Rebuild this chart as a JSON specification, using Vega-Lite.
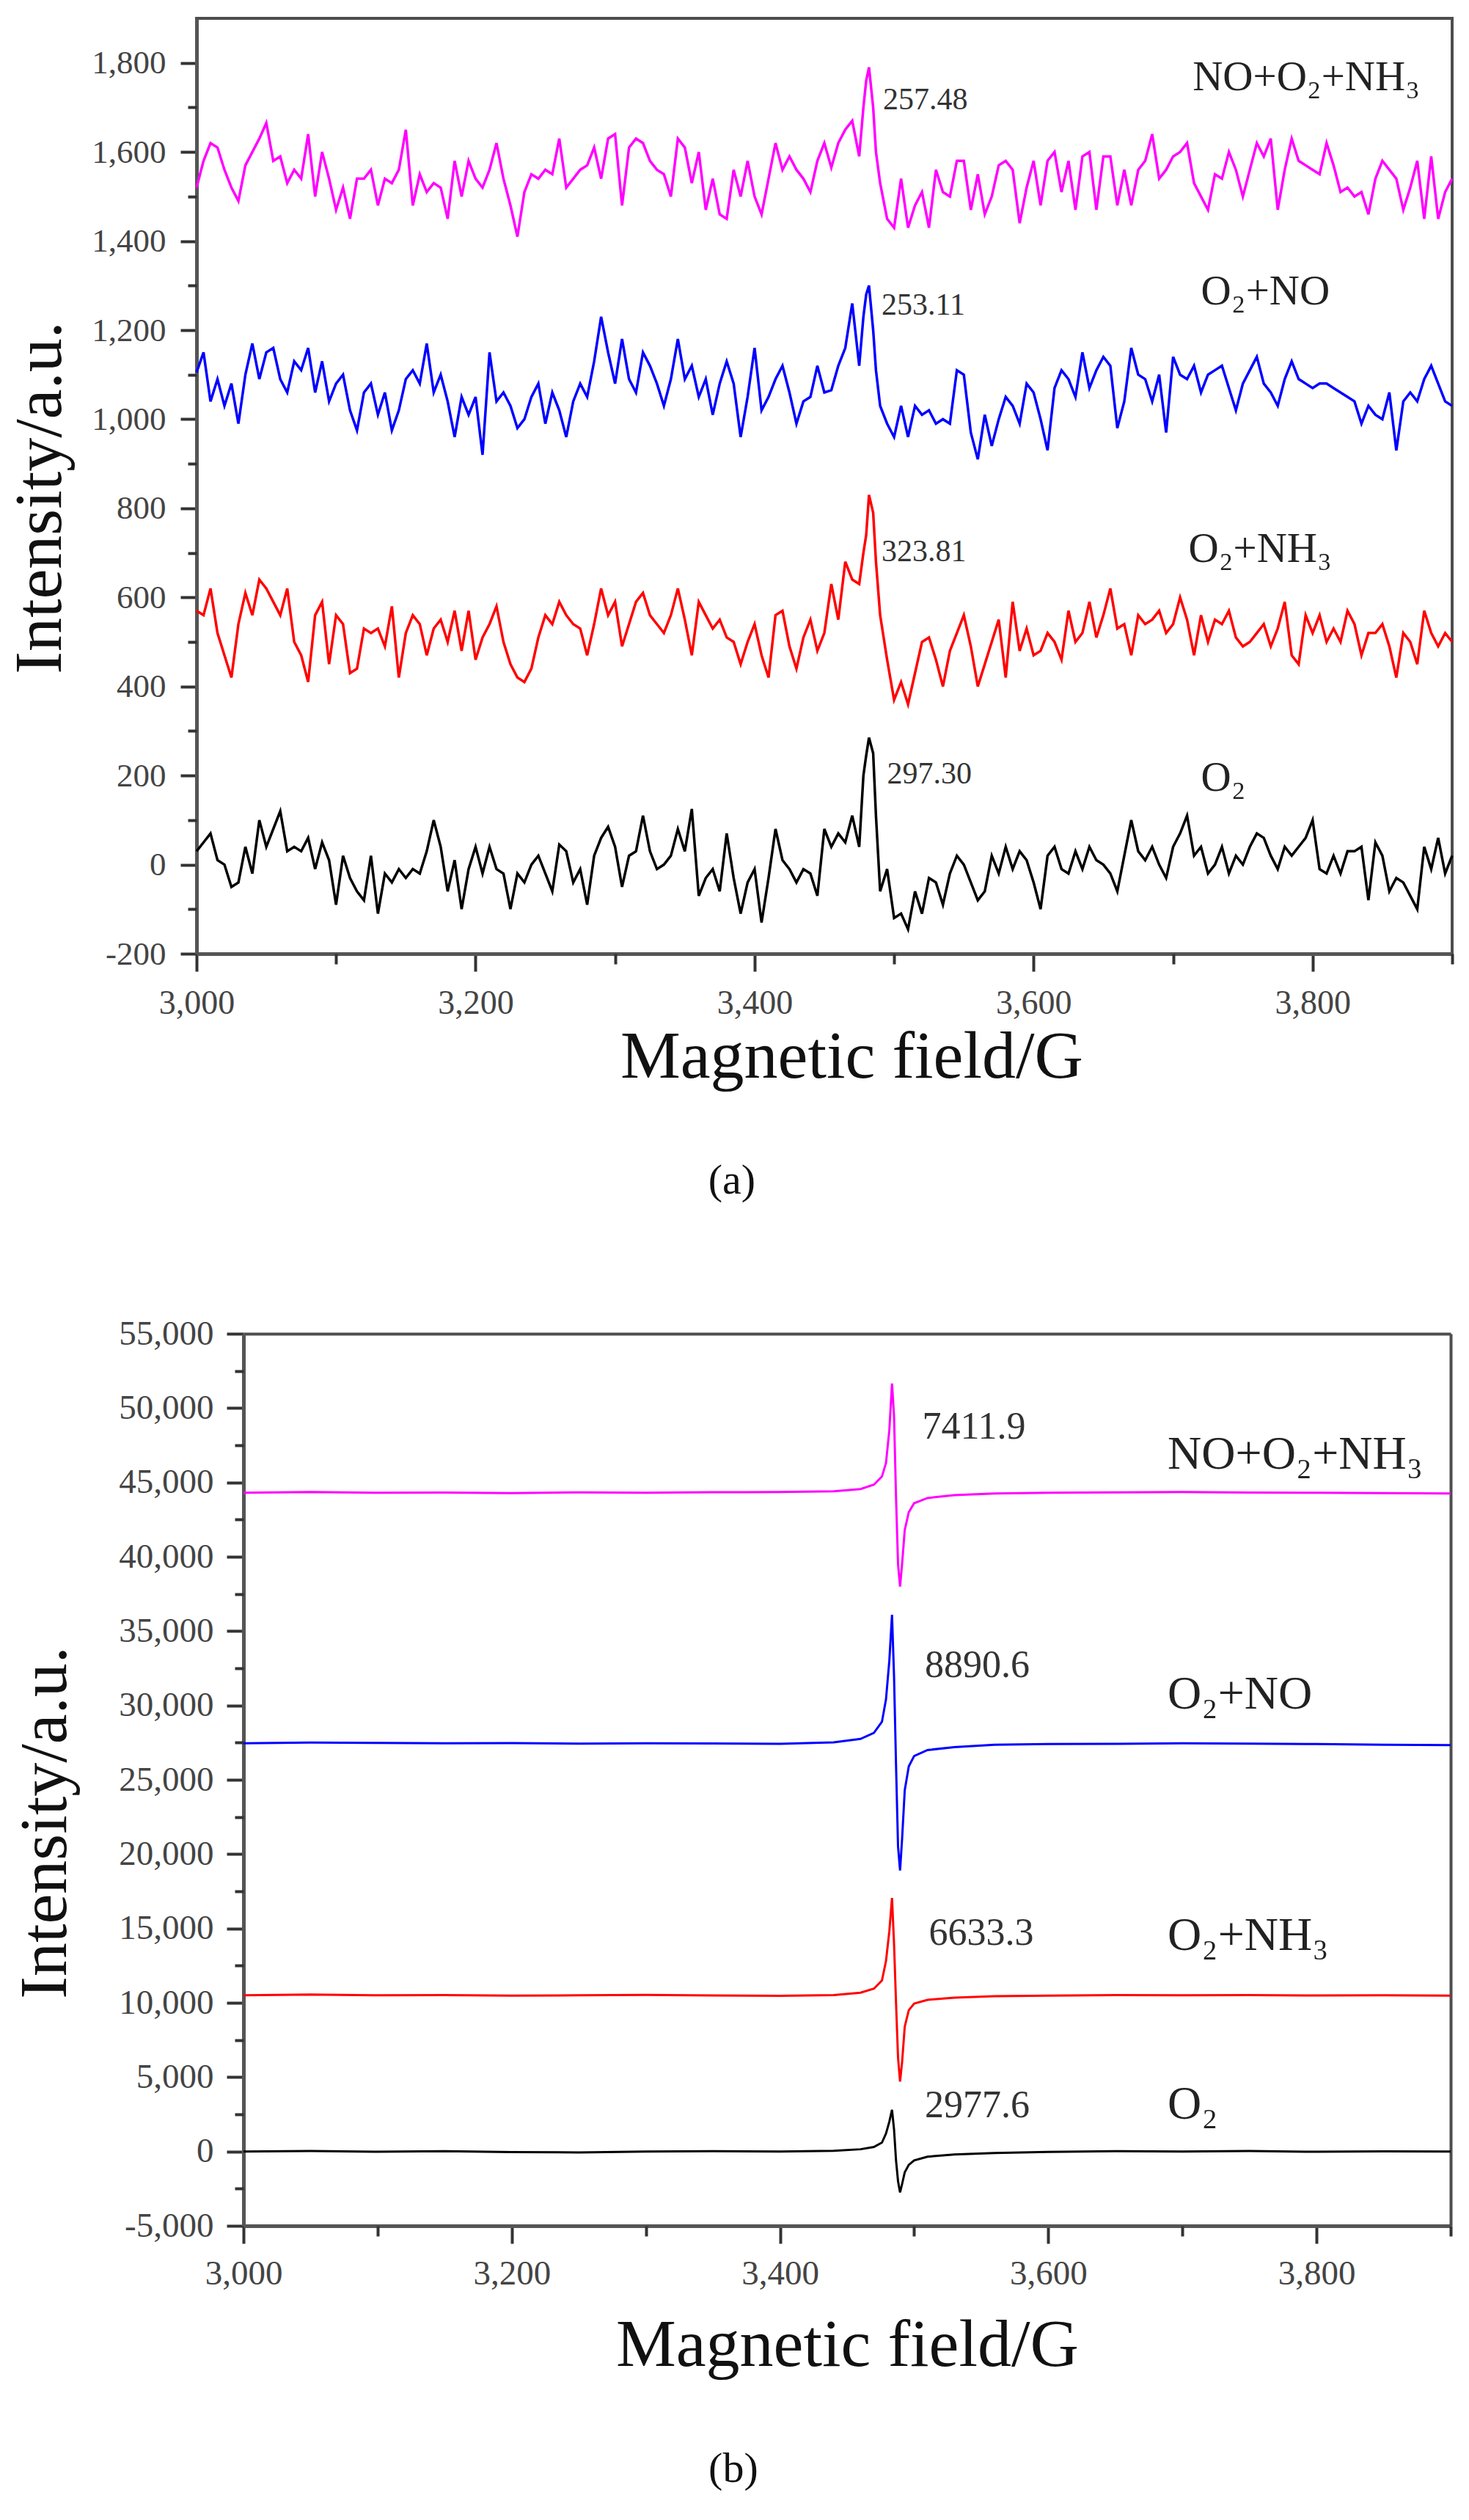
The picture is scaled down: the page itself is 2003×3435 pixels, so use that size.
{
  "$schema": "https://vega.github.io/schema/vega-lite/v6.json",
  "background": "white",
  "padding": {"left": 6, "top": 23, "right": 25, "bottom": 10},
  "spacing": 153,
  "datasets": {
    "a": [
      {"x":3000,"m":1520,"b":1105,"r":570,"k":30},{"x":3005,"m":1580,"b":1150,"r":560,"k":50},{"x":3010,"m":1620,"b":1040,"r":620,"k":70},
      {"x":3015,"m":1610,"b":1090,"r":520,"k":10},{"x":3020,"m":1560,"b":1030,"r":470,"k":0},{"x":3025,"m":1520,"b":1080,"r":420,"k":-50},
      {"x":3030,"m":1490,"b":990,"r":540,"k":-40},{"x":3035,"m":1570,"b":1100,"r":610,"k":40},{"x":3040,"m":1600,"b":1170,"r":560,"k":-20},
      {"x":3045,"m":1630,"b":1090,"r":640,"k":100},{"x":3050,"m":1665,"b":1150,"r":620,"k":40},{"x":3055,"m":1580,"b":1160,"r":590,"k":80},
      {"x":3060,"m":1590,"b":1090,"r":560,"k":120},{"x":3065,"m":1530,"b":1060,"r":620,"k":30},{"x":3070,"m":1560,"b":1130,"r":500,"k":40},
      {"x":3075,"m":1540,"b":1110,"r":470,"k":30},{"x":3080,"m":1640,"b":1160,"r":410,"k":60},{"x":3085,"m":1500,"b":1060,"r":560,"k":-10},
      {"x":3090,"m":1600,"b":1130,"r":590,"k":50},{"x":3095,"m":1540,"b":1040,"r":450,"k":10},{"x":3100,"m":1470,"b":1080,"r":560,"k":-90},
      {"x":3105,"m":1520,"b":1100,"r":540,"k":20},{"x":3110,"m":1450,"b":1020,"r":430,"k":-30},{"x":3115,"m":1540,"b":975,"r":440,"k":-60},
      {"x":3120,"m":1540,"b":1060,"r":530,"k":-80},{"x":3125,"m":1560,"b":1080,"r":520,"k":20},{"x":3130,"m":1480,"b":1010,"r":530,"k":-110},
      {"x":3135,"m":1540,"b":1060,"r":490,"k":-20},{"x":3140,"m":1530,"b":975,"r":580,"k":-40},{"x":3145,"m":1560,"b":1020,"r":420,"k":-10},
      {"x":3150,"m":1650,"b":1090,"r":520,"k":-30},{"x":3155,"m":1480,"b":1110,"r":560,"k":-10},{"x":3160,"m":1550,"b":1080,"r":540,"k":-20},
      {"x":3165,"m":1510,"b":1170,"r":470,"k":30},{"x":3170,"m":1530,"b":1060,"r":530,"k":100},{"x":3175,"m":1520,"b":1100,"r":550,"k":40},
      {"x":3180,"m":1450,"b":1040,"r":500,"k":-60},{"x":3185,"m":1580,"b":960,"r":570,"k":10},{"x":3190,"m":1500,"b":1050,"r":480,"k":-100},
      {"x":3195,"m":1580,"b":1010,"r":570,"k":-10},{"x":3200,"m":1540,"b":1050,"r":460,"k":40},{"x":3205,"m":1520,"b":920,"r":510,"k":-20},
      {"x":3210,"m":1560,"b":1150,"r":540,"k":40},{"x":3215,"m":1620,"b":1040,"r":580,"k":-10},{"x":3220,"m":1540,"b":1060,"r":500,"k":-20},
      {"x":3225,"m":1480,"b":1030,"r":450,"k":-100},{"x":3230,"m":1410,"b":980,"r":420,"k":-20},{"x":3235,"m":1510,"b":1000,"r":410,"k":-40},
      {"x":3240,"m":1550,"b":1050,"r":440,"k":0},{"x":3245,"m":1540,"b":1080,"r":510,"k":20},{"x":3250,"m":1560,"b":990,"r":560,"k":-20},
      {"x":3255,"m":1550,"b":1060,"r":540,"k":-60},{"x":3260,"m":1630,"b":1020,"r":590,"k":45},{"x":3265,"m":1520,"b":960,"r":560,"k":30},
      {"x":3270,"m":1540,"b":1040,"r":540,"k":-40},{"x":3275,"m":1560,"b":1080,"r":530,"k":-10},{"x":3280,"m":1570,"b":1050,"r":470,"k":-90},
      {"x":3285,"m":1610,"b":1130,"r":540,"k":20},{"x":3290,"m":1540,"b":1230,"r":620,"k":60},{"x":3295,"m":1630,"b":1150,"r":560,"k":85},
      {"x":3300,"m":1640,"b":1080,"r":590,"k":40},{"x":3305,"m":1480,"b":1180,"r":490,"k":-50},{"x":3310,"m":1610,"b":1090,"r":540,"k":20},
      {"x":3315,"m":1630,"b":1060,"r":590,"k":30},{"x":3320,"m":1620,"b":1150,"r":610,"k":110},{"x":3325,"m":1580,"b":1120,"r":560,"k":30},
      {"x":3330,"m":1560,"b":1080,"r":540,"k":-10},{"x":3335,"m":1550,"b":1030,"r":520,"k":0},{"x":3340,"m":1500,"b":1090,"r":560,"k":20},
      {"x":3345,"m":1630,"b":1180,"r":620,"k":80},{"x":3350,"m":1610,"b":1090,"r":550,"k":30},{"x":3355,"m":1530,"b":1120,"r":470,"k":125},
      {"x":3360,"m":1600,"b":1050,"r":590,"k":-70},{"x":3365,"m":1470,"b":1090,"r":560,"k":-30},{"x":3370,"m":1540,"b":1010,"r":530,"k":-10},
      {"x":3375,"m":1460,"b":1080,"r":550,"k":-60},{"x":3380,"m":1450,"b":1130,"r":510,"k":70},{"x":3385,"m":1560,"b":1080,"r":500,"k":-30},
      {"x":3390,"m":1500,"b":960,"r":450,"k":-110},{"x":3395,"m":1580,"b":1050,"r":500,"k":-40},{"x":3400,"m":1500,"b":1160,"r":540,"k":-10},
      {"x":3405,"m":1460,"b":1020,"r":470,"k":-130},{"x":3410,"m":1540,"b":1050,"r":420,"k":-30},{"x":3415,"m":1620,"b":1090,"r":560,"k":80},
      {"x":3420,"m":1560,"b":1120,"r":570,"k":10},{"x":3425,"m":1590,"b":1060,"r":490,"k":-10},{"x":3430,"m":1560,"b":990,"r":440,"k":-40},
      {"x":3435,"m":1540,"b":1040,"r":510,"k":-10},{"x":3440,"m":1510,"b":1050,"r":550,"k":-20},{"x":3445,"m":1580,"b":1120,"r":480,"k":-70},
      {"x":3450,"m":1620,"b":1060,"r":520,"k":80},{"x":3455,"m":1565,"b":1065,"r":630,"k":40},{"x":3460,"m":1620,"b":1120,"r":550,"k":70},
      {"x":3465,"m":1650,"b":1160,"r":680,"k":50},{"x":3470,"m":1670,"b":1260,"r":640,"k":110},{"x":3475,"m":1590,"b":1120,"r":630,"k":40},
      {"x":3478,"m":1700,"b":1230,"r":700,"k":200},{"x":3480,"m":1760,"b":1280,"r":740,"k":245},{"x":3482,"m":1790,"b":1300,"r":830,"k":285},
      {"x":3485,"m":1700,"b":1200,"r":790,"k":250},{"x":3487,"m":1600,"b":1110,"r":680,"k":110},{"x":3490,"m":1530,"b":1030,"r":560,"k":-60},
      {"x":3495,"m":1450,"b":990,"r":460,"k":-10},{"x":3500,"m":1430,"b":960,"r":370,"k":-120},{"x":3505,"m":1540,"b":1030,"r":410,"k":-110},
      {"x":3510,"m":1430,"b":960,"r":360,"k":-145},{"x":3515,"m":1480,"b":1030,"r":430,"k":-60},{"x":3520,"m":1510,"b":1010,"r":500,"k":-110},
      {"x":3525,"m":1430,"b":1020,"r":510,"k":-30},{"x":3530,"m":1560,"b":990,"r":460,"k":-40},{"x":3535,"m":1510,"b":1000,"r":400,"k":-90},
      {"x":3540,"m":1500,"b":990,"r":480,"k":-20},{"x":3545,"m":1580,"b":1110,"r":520,"k":20},{"x":3550,"m":1580,"b":1100,"r":560,"k":0},
      {"x":3555,"m":1470,"b":970,"r":490,"k":-40},{"x":3560,"m":1550,"b":910,"r":400,"k":-80},{"x":3565,"m":1460,"b":1010,"r":450,"k":-60},
      {"x":3570,"m":1500,"b":940,"r":500,"k":20},{"x":3575,"m":1570,"b":1000,"r":550,"k":-20},{"x":3580,"m":1580,"b":1050,"r":420,"k":40},
      {"x":3585,"m":1560,"b":1030,"r":590,"k":-10},{"x":3590,"m":1440,"b":990,"r":480,"k":30},{"x":3595,"m":1520,"b":1080,"r":530,"k":10},
      {"x":3600,"m":1580,"b":1060,"r":470,"k":-40},{"x":3605,"m":1480,"b":1000,"r":480,"k":-100},{"x":3610,"m":1580,"b":930,"r":520,"k":20},
      {"x":3615,"m":1600,"b":1070,"r":500,"k":40},{"x":3620,"m":1510,"b":1110,"r":460,"k":-10},{"x":3625,"m":1580,"b":1090,"r":570,"k":-20},
      {"x":3630,"m":1470,"b":1050,"r":500,"k":30},{"x":3635,"m":1590,"b":1150,"r":520,"k":-10},{"x":3640,"m":1600,"b":1070,"r":590,"k":40},
      {"x":3645,"m":1470,"b":1110,"r":510,"k":10},{"x":3650,"m":1590,"b":1140,"r":560,"k":0},{"x":3655,"m":1590,"b":1120,"r":620,"k":-20},
      {"x":3660,"m":1480,"b":980,"r":530,"k":-60},{"x":3665,"m":1560,"b":1040,"r":540,"k":20},{"x":3670,"m":1480,"b":1160,"r":470,"k":100},
      {"x":3675,"m":1560,"b":1100,"r":560,"k":30},{"x":3680,"m":1580,"b":1090,"r":540,"k":10},{"x":3685,"m":1640,"b":1040,"r":550,"k":40},
      {"x":3690,"m":1540,"b":1100,"r":570,"k":0},{"x":3695,"m":1560,"b":970,"r":520,"k":-30},{"x":3700,"m":1590,"b":1140,"r":540,"k":40},
      {"x":3705,"m":1600,"b":1100,"r":600,"k":70},{"x":3710,"m":1620,"b":1090,"r":550,"k":110},{"x":3715,"m":1530,"b":1120,"r":470,"k":20},
      {"x":3720,"m":1500,"b":1060,"r":560,"k":40},{"x":3725,"m":1470,"b":1100,"r":500,"k":-20},{"x":3730,"m":1550,"b":1110,"r":550,"k":0},
      {"x":3735,"m":1540,"b":1120,"r":540,"k":40},{"x":3740,"m":1600,"b":1070,"r":570,"k":-20},{"x":3745,"m":1560,"b":1020,"r":510,"k":20},
      {"x":3750,"m":1500,"b":1080,"r":490,"k":0},{"x":3755,"m":1560,"b":1110,"r":500,"k":40},{"x":3760,"m":1620,"b":1140,"r":520,"k":70},
      {"x":3765,"m":1590,"b":1080,"r":540,"k":60},{"x":3770,"m":1630,"b":1060,"r":490,"k":20},{"x":3775,"m":1470,"b":1030,"r":530,"k":-10},
      {"x":3780,"m":1560,"b":1090,"r":590,"k":40},{"x":3785,"m":1630,"b":1130,"r":470,"k":20},{"x":3790,"m":1580,"b":1090,"r":450,"k":40},
      {"x":3795,"m":1570,"b":1080,"r":560,"k":60},{"x":3800,"m":1560,"b":1070,"r":520,"k":100},{"x":3805,"m":1550,"b":1080,"r":560,"k":-10},
      {"x":3810,"m":1620,"b":1080,"r":500,"k":-20},{"x":3815,"m":1570,"b":1070,"r":530,"k":20},{"x":3820,"m":1510,"b":1060,"r":500,"k":-20},
      {"x":3825,"m":1520,"b":1050,"r":570,"k":30},{"x":3830,"m":1500,"b":1040,"r":540,"k":30},{"x":3835,"m":1510,"b":990,"r":470,"k":40},
      {"x":3840,"m":1460,"b":1030,"r":520,"k":-80},{"x":3845,"m":1540,"b":1010,"r":520,"k":50},{"x":3850,"m":1580,"b":1000,"r":540,"k":20},
      {"x":3855,"m":1560,"b":1060,"r":490,"k":-60},{"x":3860,"m":1540,"b":930,"r":420,"k":-30},{"x":3865,"m":1470,"b":1040,"r":520,"k":-40},
      {"x":3870,"m":1520,"b":1060,"r":500,"k":-70},{"x":3875,"m":1580,"b":1040,"r":450,"k":-100},{"x":3880,"m":1450,"b":1090,"r":570,"k":40},
      {"x":3885,"m":1590,"b":1120,"r":520,"k":-10},{"x":3890,"m":1450,"b":1080,"r":490,"k":60},{"x":3895,"m":1510,"b":1040,"r":520,"k":-20},
      {"x":3900,"m":1540,"b":1030,"r":500,"k":20}
    ],
    "b": [
      {"x":3000,"m":44300,"b":27450,"r":10500,"k":0},{"x":3050,"m":44350,"b":27500,"r":10550,"k":30},{"x":3100,"m":44300,"b":27480,"r":10500,"k":-20},
      {"x":3150,"m":44320,"b":27450,"r":10520,"k":20},{"x":3200,"m":44280,"b":27470,"r":10480,"k":-40},{"x":3250,"m":44330,"b":27430,"r":10500,"k":-60},
      {"x":3300,"m":44300,"b":27460,"r":10530,"k":-10},{"x":3350,"m":44340,"b":27440,"r":10490,"k":20},{"x":3400,"m":44350,"b":27420,"r":10470,"k":0},
      {"x":3440,"m":44400,"b":27520,"r":10520,"k":50},{"x":3460,"m":44550,"b":27750,"r":10680,"k":150},{"x":3470,"m":44850,"b":28150,"r":10950,"k":300},
      {"x":3476,"m":45400,"b":28900,"r":11500,"k":600},{"x":3479,"m":46300,"b":30400,"r":12800,"k":1200},{"x":3481.5,"m":48500,"b":33000,"r":14800,"k":2000},
      {"x":3483.5,"m":51650,"b":36100,"r":17050,"k":2800},{"x":3485,"m":49500,"b":32000,"r":14000,"k":1500},{"x":3486.5,"m":44000,"b":26000,"r":10000,"k":-600},
      {"x":3488,"m":39500,"b":20500,"r":6300,"k":-2000},{"x":3489.5,"m":38000,"b":18900,"r":4700,"k":-2750},{"x":3491,"m":39500,"b":21000,"r":6000,"k":-2200},
      {"x":3493,"m":41800,"b":24300,"r":8400,"k":-1400},{"x":3496,"m":43000,"b":25900,"r":9500,"k":-900},{"x":3500,"m":43600,"b":26600,"r":9950,"k":-600},
      {"x":3510,"m":43950,"b":27000,"r":10200,"k":-350},{"x":3530,"m":44150,"b":27200,"r":10350,"k":-200},{"x":3560,"m":44250,"b":27350,"r":10450,"k":-100},
      {"x":3600,"m":44300,"b":27400,"r":10480,"k":-30},{"x":3650,"m":44330,"b":27420,"r":10520,"k":20},{"x":3700,"m":44350,"b":27450,"r":10500,"k":0},
      {"x":3750,"m":44320,"b":27430,"r":10520,"k":30},{"x":3800,"m":44300,"b":27400,"r":10490,"k":-20},{"x":3850,"m":44280,"b":27350,"r":10500,"k":10},
      {"x":3900,"m":44250,"b":27330,"r":10480,"k":0}
    ],
    "numA": [
      {"x":3492,"y":1696,"t":"257.48"},{"x":3491,"y":1235,"t":"253.11"},{"x":3491,"y":681,"t":"323.81"},{"x":3495,"y":182,"t":"297.30"}
    ],
    "nameA": [
      {"x":3714,"y":1739,"t":"NO+O₂+NH₃"},{"x":3720,"y":1258,"t":"O₂+NO"},{"x":3711,"y":680,"t":"O₂+NH₃"},{"x":3720,"y":166,"t":"O₂"}
    ],
    "numB": [
      {"x":3506,"y":47940,"t":"7411.9"},{"x":3508,"y":31900,"t":"8890.6"},{"x":3511,"y":13880,"t":"6633.3"},{"x":3508,"y":2280,"t":"2977.6"}
    ],
    "nameB": [
      {"x":3689,"y":45920,"t":"NO+O₂+NH₃"},{"x":3689,"y":29780,"t":"O₂+NO"},{"x":3689,"y":13540,"t":"O₂+NH₃"},{"x":3689,"y":2185,"t":"O₂"}
    ]
  },
  "vconcat": [
    {
      "width": 1712,
      "height": 1275,
      "title": {"text": "(a)", "orient": "bottom", "anchor": "middle", "frame": "bounds", "offset": 95},
      "resolve": {"axis": {"x": "independent", "y": "independent"}},
      "layer": [
        {
          "data": {"name": "a"},
          "transform": [{"fold": ["m", "b", "r", "k"], "as": ["s", "v"]}],
          "mark": {"type": "line", "strokeWidth": 3.5},
          "encoding": {
            "x": {"field": "x", "type": "quantitative",
              "scale": {"domain": [3000, 3900], "nice": false, "zero": false},
              "axis": {"values": [3000, 3200, 3400, 3600, 3800], "format": ",.0f", "tickSize": 24, "labelPadding": 21,
                "labelFontSize": 46, "title": "Magnetic field/G", "titlePadding": 5, "titleX": 893}},
            "y": {"field": "v", "type": "quantitative",
              "scale": {"domain": [-200, 1900], "nice": false, "zero": false},
              "axis": {"values": [-200, 0, 200, 400, 600, 800, 1000, 1200, 1400, 1600, 1800], "format": ",.0f",
                "labelExpr": "replace(datum.label, '−', '-')", "tickSize": 22, "labelPadding": 20,
                "labelFontSize": 45, "title": "Intensity/a.u.", "titlePadding": 23, "titleY": 653}},
            "color": {"field": "s", "type": "nominal", "legend": null,
              "scale": {"domain": ["m", "b", "r", "k"], "range": ["#ff00ff", "#0000ff", "#ff0000", "#000000"]}},
            "detail": {"field": "s"}
          }
        },
        {
          "data": {"name": "numA"},
          "mark": {"type": "text", "align": "left", "baseline": "alphabetic", "fontSize": 42, "color": "#333333"},
          "encoding": {
            "x": {"field": "x", "type": "quantitative", "scale": {"domain": [3000, 3900], "nice": false, "zero": false},
              "axis": null},
            "y": {"field": "y", "type": "quantitative", "scale": {"domain": [-200, 1900], "nice": false, "zero": false},
              "axis": null},
            "text": {"field": "t"}
          }
        },
        {
          "data": {"name": "nameA"},
          "mark": {"type": "text", "align": "left", "baseline": "alphabetic", "fontSize": 57, "color": "#222222"},
          "encoding": {
            "x": {"field": "x", "type": "quantitative", "scale": {"domain": [3000, 3900], "nice": false, "zero": false},
              "axis": {"orient": "bottom", "values": [3100, 3300, 3500, 3700, 3900], "tickSize": 14, "labels": false,
                "domain": false, "title": null}},
            "y": {"field": "y", "type": "quantitative", "scale": {"domain": [-200, 1900], "nice": false, "zero": false},
              "axis": {"orient": "left", "values": [-100, 100, 300, 500, 700, 900, 1100, 1300, 1500, 1700], "tickSize": 12,
                "labels": false, "domain": false, "title": null}},
            "text": {"field": "t"}
          }
        }
      ]
    },
    {
      "width": 1710,
      "height": 1216,
      "view": {"stroke": null},
      "title": {"text": "(b)", "orient": "bottom", "anchor": "middle", "frame": "bounds", "offset": 95},
      "resolve": {"axis": {"x": "independent", "y": "independent"}},
      "layer": [
        {
          "data": {"name": "b"},
          "transform": [{"fold": ["m", "b", "r", "k"], "as": ["s", "v"]}],
          "mark": {"type": "line", "strokeWidth": 3},
          "encoding": {
            "x": {"field": "x", "type": "quantitative",
              "scale": {"domain": [3000, 3900], "range": [64, 1710], "nice": false, "zero": false},
              "axis": {"values": [3000, 3200, 3400, 3600, 3800], "format": ",.0f", "tickSize": 24, "labelPadding": 18,
                "labelFontSize": 47, "title": "Magnetic field/G", "titlePadding": 29}},
            "y": {"field": "v", "type": "quantitative",
              "scale": {"domain": [-5000, 55000], "nice": false, "zero": false},
              "axis": {"values": [-5000, 0, 5000, 10000, 15000, 20000, 25000, 30000, 35000, 40000, 45000, 50000, 55000],
                "format": ",.0f", "labelExpr": "replace(datum.label, '−', '-')", "tickSize": 23, "labelPadding": 18,
                "labelFontSize": 47, "title": "Intensity/a.u.", "titlePadding": 53, "titleY": 666, "offset": -64}},
            "color": {"field": "s", "type": "nominal", "legend": null,
              "scale": {"domain": ["m", "b", "r", "k"], "range": ["#ff00ff", "#0000ff", "#ff0000", "#000000"]}},
            "detail": {"field": "s"}
          }
        },
        {
          "data": {"name": "numB"},
          "mark": {"type": "text", "align": "left", "baseline": "alphabetic", "fontSize": 52, "color": "#333333"},
          "encoding": {
            "x": {"field": "x", "type": "quantitative",
              "scale": {"domain": [3000, 3900], "range": [64, 1710], "nice": false, "zero": false},
              "axis": {"orient": "top", "ticks": false, "labels": false, "title": null, "domainColor": "#4d4d4d", "domainWidth": 4}},
            "y": {"field": "y", "type": "quantitative", "scale": {"domain": [-5000, 55000], "nice": false, "zero": false},
              "axis": {"orient": "right", "ticks": false, "labels": false, "title": null, "domainColor": "#4d4d4d", "domainWidth": 4}},
            "text": {"field": "t"}
          }
        },
        {
          "data": {"name": "nameB"},
          "mark": {"type": "text", "align": "left", "baseline": "alphabetic", "fontSize": 64, "color": "#222222"},
          "encoding": {
            "x": {"field": "x", "type": "quantitative",
              "scale": {"domain": [3000, 3900], "range": [64, 1710], "nice": false, "zero": false},
              "axis": {"orient": "bottom", "values": [3100, 3300, 3500, 3700, 3900], "tickSize": 14, "labels": false,
                "domain": false, "title": null}},
            "y": {"field": "y", "type": "quantitative", "scale": {"domain": [-5000, 55000], "nice": false, "zero": false},
              "axis": {"orient": "left", "values": [-2500, 2500, 7500, 12500, 17500, 22500, 27500, 32500, 37500, 42500, 47500, 52500],
                "tickSize": 12, "labels": false, "domain": false, "title": null, "offset": -64}},
            "text": {"field": "t"}
          }
        }
      ]
    }
  ],
  "config": {
    "font": "Liberation Serif, DejaVu Serif, serif",
    "view": {"stroke": "#4d4d4d", "strokeWidth": 4},
    "axis": {
      "grid": false,
      "domainColor": "#555555",
      "domainWidth": 5,
      "tickColor": "#333333",
      "tickWidth": 4,
      "labelFont": "Liberation Serif, DejaVu Serif, serif",
      "labelColor": "#444444",
      "labelFlush": false,
      "labelOverlap": false,
      "titleFont": "Liberation Serif, DejaVu Serif, serif",
      "titleFontWeight": "normal",
      "titleColor": "#111111",
      "titleFontSize": 92
    },
    "title": {"font": "Liberation Serif, DejaVu Serif, serif", "fontSize": 58, "fontWeight": "normal", "color": "#111111"}
  }
}
